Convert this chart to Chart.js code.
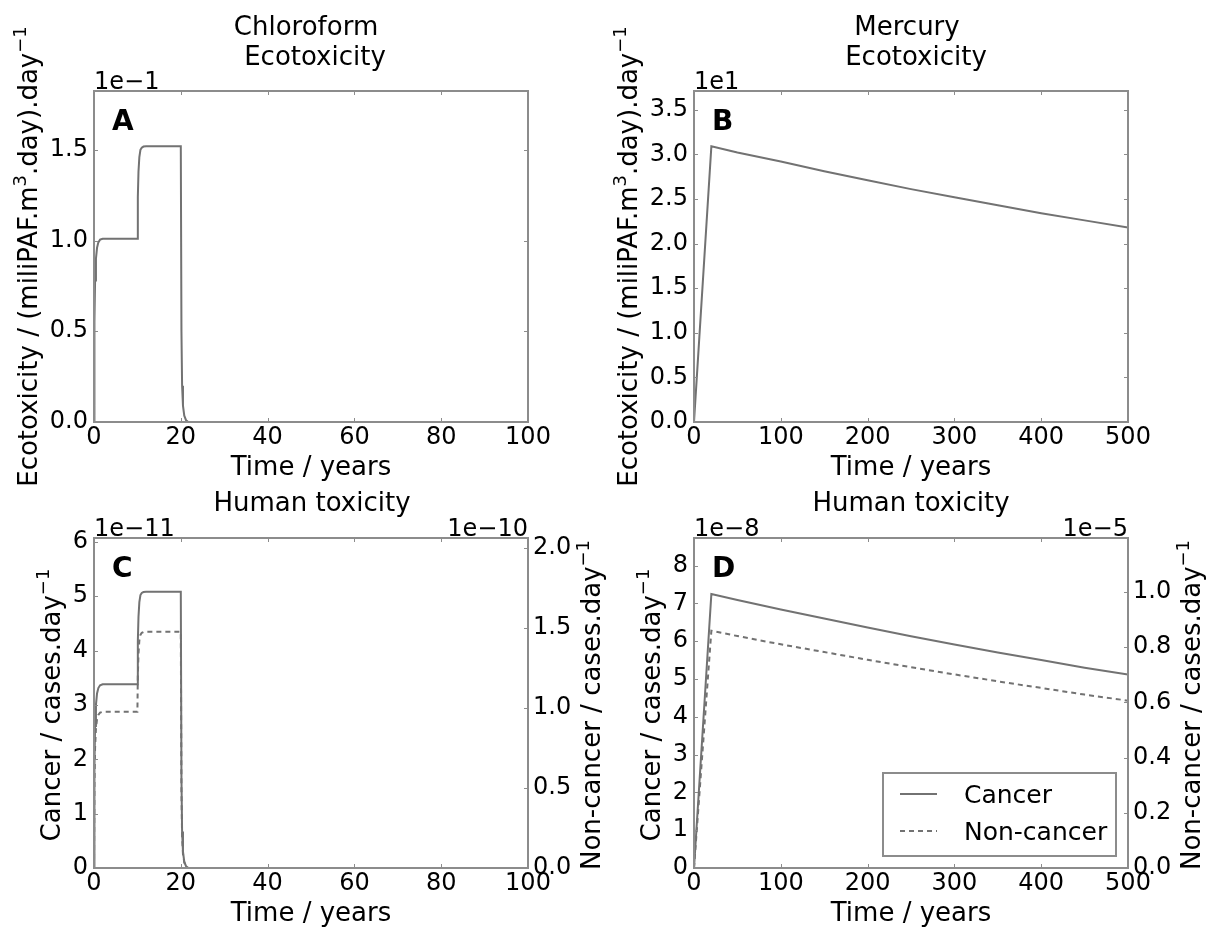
<!DOCTYPE html>
<html>
<head>
<meta charset="utf-8">
<script src="https://cdn.jsdelivr.net/npm/chart.js@4/dist/chart.umd.min.js"></script>
<style>
html,body{margin:0;padding:0;background:#fff;}
#wrap{position:relative;width:1210px;height:929px;overflow:hidden;background:#fff;}
canvas{position:absolute;left:0;top:0;}
</style>
</head>
<body>
<div id="wrap">
<canvas id="cA" width="1210" height="929"></canvas>
<canvas id="cB" width="1210" height="929"></canvas>
<canvas id="cC" width="1210" height="929"></canvas>
<canvas id="cD" width="1210" height="929"></canvas>
</div>
<script>
// ---------- DATA ----------
// Short time base (years) for panels A and C
const timeShort = [0, 0.1, 0.25, 0.45, 0.7, 1.0, 1.4, 2.0, 10.0, 10.1, 10.25, 10.45, 10.7, 11.0, 11.4, 12.0, 20.0, 20.15, 20.3, 20.5, 20.8, 21.2, 21.6, 22.0, 100];
// Panel A: Chloroform ecotoxicity (in units of 1e-1)
const ecoA = [0, 0.55, 0.78, 0.9, 0.96, 0.99, 1.005, 1.01, 1.01, 1.24, 1.38, 1.46, 1.5, 1.512, 1.518, 1.52, 1.52, 0.5, 0.2, 0.09, 0.035, 0.01, 0.002, 0, 0];
// Panel C: Chloroform human toxicity, cancer (1e-11) and non-cancer (1e-10)
const cancerC = [0, 1.84, 2.61, 3.0, 3.21, 3.31, 3.36, 3.38, 3.38, 4.17, 4.62, 4.89, 5.02, 5.06, 5.075, 5.08, 5.08, 1.67, 0.67, 0.30, 0.117, 0.034, 0.007, 0, 0];
const nonCancerC = [0, 0.53, 0.75, 0.87, 0.93, 0.955, 0.97, 0.975, 0.975, 1.2, 1.34, 1.42, 1.455, 1.468, 1.473, 1.475, 1.475, 0.485, 0.195, 0.087, 0.034, 0.0097, 0.002, 0, 0];
// Long time base (years) for panels B and D
const timeLong = [0, 20, 50, 100, 150, 200, 250, 300, 350, 400, 450, 500];
// Panel B: Mercury ecotoxicity (in units of 1e1)
const ecoB = [0, 3.09, 3.02, 2.92, 2.81, 2.71, 2.61, 2.52, 2.43, 2.34, 2.26, 2.18];
// Panel D: Mercury human toxicity, cancer (1e-8) and non-cancer (1e-5)
const cancerD = [0, 7.25, 7.09, 6.84, 6.60, 6.36, 6.13, 5.91, 5.70, 5.50, 5.30, 5.12];
const nonCancerD = [0, 0.859, 0.840, 0.810, 0.782, 0.754, 0.727, 0.701, 0.676, 0.652, 0.628, 0.606];

// Tick labels
const xTicksShort = [0, 20, 40, 60, 80, 100];
const xTicksLong = [0, 100, 200, 300, 400, 500];
const yTicksA = [0, 0.5, 1.0, 1.5];
const yTicksB = [0, 0.5, 1.0, 1.5, 2.0, 2.5, 3.0, 3.5];
const yTicksC = [0, 1, 2, 3, 4, 5, 6];
const y2TicksC = [0, 0.5, 1.0, 1.5, 2.0];
const yTicksD = [0, 1, 2, 3, 4, 5, 6, 7, 8];
const y2TicksD = [0, 0.2, 0.4, 0.6, 0.8, 1.0];
const seriesNames = ['Cancer', 'Non-cancer'];

// ---------- STYLE ----------
const FONT = "'DejaVu Sans', 'Liberation Sans', sans-serif";
const LINE = '#727272';
const FRAME = '#8c8c8c';
const TXT = '#000';

function pts(xs, ys) { return xs.map((x, i) => ({x: x, y: ys[i]})); }

function richWidth(ctx, segs, size) {
  let w = 0;
  for (const s of segs) {
    ctx.font = (s.sup ? Math.round(size * 0.7) : size) + 'px ' + FONT;
    w += ctx.measureText(s.t).width;
  }
  return w;
}
function drawRichRot(ctx, segs, bx, cy, size) {
  ctx.save();
  ctx.translate(bx, cy);
  ctx.rotate(-Math.PI / 2);
  ctx.textAlign = 'left';
  ctx.textBaseline = 'alphabetic';
  ctx.fillStyle = TXT;
  const w = richWidth(ctx, segs, size);
  let x = -w / 2;
  for (const s of segs) {
    ctx.font = (s.sup ? Math.round(size * 0.7) : size) + 'px ' + FONT;
    ctx.fillText(s.t, x, s.sup ? -size * 0.42 : 0);
    x += ctx.measureText(s.t).width;
  }
  ctx.restore();
}

const decoPlugin = {
  id: 'deco',
  afterDraw(chart, args, o) {
    const ctx = chart.ctx;
    const a = chart.chartArea;
    const midX = (a.left + a.right) / 2, midY = (a.top + a.bottom) / 2;
    ctx.save();
    // inward tick marks
    ctx.strokeStyle = FRAME;
    ctx.lineWidth = 1;
    const xs = chart.scales.x, ys = chart.scales.y, y2 = chart.scales.y2;
    ctx.beginPath();
    for (const t of xs.ticks) {
      const p = Math.round(xs.getPixelForValue(t.value)) + 0.5;
      ctx.moveTo(p, a.bottom); ctx.lineTo(p, a.bottom - 4);
      ctx.moveTo(p, a.top); ctx.lineTo(p, a.top + 4);
    }
    for (const t of ys.ticks) {
      const p = Math.round(ys.getPixelForValue(t.value)) + 0.5;
      ctx.moveTo(a.left, p); ctx.lineTo(a.left + 4, p);
      if (!y2) { ctx.moveTo(a.right, p); ctx.lineTo(a.right - 4, p); }
    }
    if (y2) {
      for (const t of y2.ticks) {
        const p = Math.round(y2.getPixelForValue(t.value)) + 0.5;
        ctx.moveTo(a.right, p); ctx.lineTo(a.right - 4, p);
      }
    }
    ctx.stroke();
    // frame
    ctx.lineWidth = 2;
    ctx.strokeRect(a.left, a.top, a.right - a.left, a.bottom - a.top);

    ctx.fillStyle = TXT;
    ctx.textBaseline = 'alphabetic';
    // panel letter
    ctx.font = 'bold 28px ' + FONT;
    ctx.textAlign = 'left';
    ctx.fillText(o.letter, a.left + 18, a.top + 39);
    // titles
    ctx.font = '26px ' + FONT;
    ctx.textAlign = 'center';
    for (const t of o.titles) ctx.fillText(t.text, midX + t.dx, a.top + t.dy);
    // x label
    ctx.fillText(o.xlabel, midX, a.bottom + 53);
    // offset texts
    ctx.font = '24px ' + FONT;
    ctx.textAlign = 'left';
    ctx.fillText(o.offsetL, a.left, a.top - 2);
    if (o.offsetR) { ctx.textAlign = 'right'; ctx.fillText(o.offsetR, a.right, a.top - 2); }
    // y labels
    drawRichRot(ctx, o.ylabel, a.left + o.yLabelDx, midY + o.yLabelDy, 26);
    if (o.y2label) drawRichRot(ctx, o.y2label, a.right + 72, midY + 2, 26);
    // legend
    if (o.legend) {
      const bx0 = a.right - 245, bx1 = a.right - 12, by1 = a.bottom - 12, by0 = by1 - 83;
      ctx.fillStyle = '#fff';
      ctx.fillRect(bx0, by0, bx1 - bx0, by1 - by0);
      ctx.strokeStyle = FRAME; ctx.lineWidth = 2;
      ctx.strokeRect(bx0, by0, bx1 - bx0, by1 - by0);
      const ds = chart.data.datasets;
      ds.forEach((d, i) => {
        const ly = by0 + 21 + i * 37;
        ctx.strokeStyle = d.borderColor; ctx.lineWidth = d.borderWidth;
        ctx.setLineDash(d.borderDash || []);
        ctx.beginPath(); ctx.moveTo(bx0 + 17, ly); ctx.lineTo(bx0 + 54, ly); ctx.stroke();
        ctx.setLineDash([]);
        ctx.fillStyle = TXT; ctx.font = '25px ' + FONT; ctx.textAlign = 'left';
        ctx.fillText(d.label, bx0 + 81, ly + 9);
      });
    }
    ctx.restore();
  }
};

function tickFont() { return {family: FONT, size: 24, lineHeight: 1}; }

function makeChart(id, c) {
  const scales = {
    x: {
      type: 'linear', position: 'bottom', min: 0, max: c.xMax,
      grid: {display: false, drawTicks: false}, border: {display: false},
      afterBuildTicks: s => { s.ticks = c.xTicks.map(v => ({value: v})); },
      afterFit: s => { s.height = 60; },
      ticks: {autoSkip: false, maxRotation: 0, minRotation: 0, padding: 4, color: TXT, font: tickFont(),
        callback: v => String(v)}
    },
    y: {
      type: 'linear', position: 'left', min: 0, max: c.yMax,
      grid: {display: false, drawTicks: false}, border: {display: false},
      afterBuildTicks: s => { s.ticks = c.yTicks.map(v => ({value: v})); },
      afterFit: s => { s.width = 70; },
      ticks: {autoSkip: false, padding: 6, color: TXT, font: tickFont(), callback: c.yFmt}
    }
  };
  if (c.y2Max) {
    scales.y2 = {
      type: 'linear', position: 'right', min: 0, max: c.y2Max,
      grid: {display: false, drawTicks: false}, border: {display: false},
      afterBuildTicks: s => { s.ticks = c.y2Ticks.map(v => ({value: v})); },
      afterFit: s => { s.width = 70; },
      ticks: {autoSkip: false, padding: 5, color: TXT, font: tickFont(), callback: c.y2Fmt}
    };
  }
  return new Chart(document.getElementById(id), {
    type: 'line',
    data: {datasets: c.datasets},
    plugins: [decoPlugin],
    options: {
      responsive: false, animation: false, devicePixelRatio: 1,
      layout: {padding: {left: c.L - 70, right: c.y2Max ? 1210 - c.R - 70 : 1210 - c.R, top: c.T, bottom: 929 - c.B - 60}},
      elements: {point: {radius: 0}, line: {tension: 0}},
      scales: scales,
      plugins: {legend: {display: false}, tooltip: {enabled: false}, title: {display: false}, deco: c.deco}
    }
  });
}

const f1 = v => Number(v).toFixed(1);
const f0 = v => String(v);
const ecoLabel = [{t: 'Ecotoxicity / (miliPAF.m'}, {t: '3', sup: true}, {t: '.day).day'}, {t: '\u22121', sup: true}];
const cancerLabel = [{t: 'Cancer / cases.day'}, {t: '\u22121', sup: true}];
const nonCancerLabel = [{t: 'Non-cancer / cases.day'}, {t: '\u22121', sup: true}];

function solid(label, xs, ys, axis) {
  return {label: label, data: pts(xs, ys), borderColor: LINE, borderWidth: 2, fill: false, yAxisID: axis || 'y'};
}
function dashed(label, xs, ys, axis) {
  return {label: label, data: pts(xs, ys), borderColor: LINE, borderWidth: 2, borderDash: [5, 4], fill: false, yAxisID: axis || 'y'};
}

makeChart('cA', {
  L: 94, R: 528, T: 91, B: 422, xMax: 100, xTicks: xTicksShort,
  yMax: 1.824, yTicks: yTicksA, yFmt: f1,
  datasets: [solid('Ecotoxicity', timeShort, ecoA)],
  deco: {letter: 'A', titles: [{text: 'Chloroform', dx: -5, dy: -56}, {text: 'Ecotoxicity', dx: 4, dy: -26}],
    xlabel: 'Time / years', offsetL: '1e\u22121', ylabel: ecoLabel, yLabelDx: -57, yLabelDy: 0}
});
makeChart('cB', {
  L: 694, R: 1128, T: 91, B: 422, xMax: 500, xTicks: xTicksLong,
  yMax: 3.71, yTicks: yTicksB, yFmt: f1,
  datasets: [solid('Ecotoxicity', timeLong, ecoB)],
  deco: {letter: 'B', titles: [{text: 'Mercury', dx: -4, dy: -56}, {text: 'Ecotoxicity', dx: 5, dy: -26}],
    xlabel: 'Time / years', offsetL: '1e1', ylabel: ecoLabel, yLabelDx: -57, yLabelDy: 0}
});
makeChart('cC', {
  L: 94, R: 528, T: 538, B: 868, xMax: 100, xTicks: xTicksShort,
  yMax: 6.07, yTicks: yTicksC, yFmt: f0,
  y2Max: 2.06, y2Ticks: y2TicksC, y2Fmt: f1,
  datasets: [solid(seriesNames[0], timeShort, cancerC, 'y'), dashed(seriesNames[1], timeShort, nonCancerC, 'y2')],
  deco: {letter: 'C', titles: [{text: 'Human toxicity', dx: 1, dy: -27}],
    xlabel: 'Time / years', offsetL: '1e\u221211', offsetR: '1e\u221210',
    ylabel: cancerLabel, yLabelDx: -34, yLabelDy: 2, y2label: nonCancerLabel}
});
makeChart('cD', {
  L: 694, R: 1128, T: 538, B: 868, xMax: 500, xTicks: xTicksLong,
  yMax: 8.73, yTicks: yTicksD, yFmt: f0,
  y2Max: 1.195, y2Ticks: y2TicksD, y2Fmt: f1,
  datasets: [solid(seriesNames[0], timeLong, cancerD, 'y'), dashed(seriesNames[1], timeLong, nonCancerD, 'y2')],
  deco: {letter: 'D', titles: [{text: 'Human toxicity', dx: 0, dy: -27}],
    xlabel: 'Time / years', offsetL: '1e\u22128', offsetR: '1e\u22125',
    ylabel: cancerLabel, yLabelDx: -34, yLabelDy: 2, y2label: nonCancerLabel, legend: true}
});
</script>
</body>
</html>
